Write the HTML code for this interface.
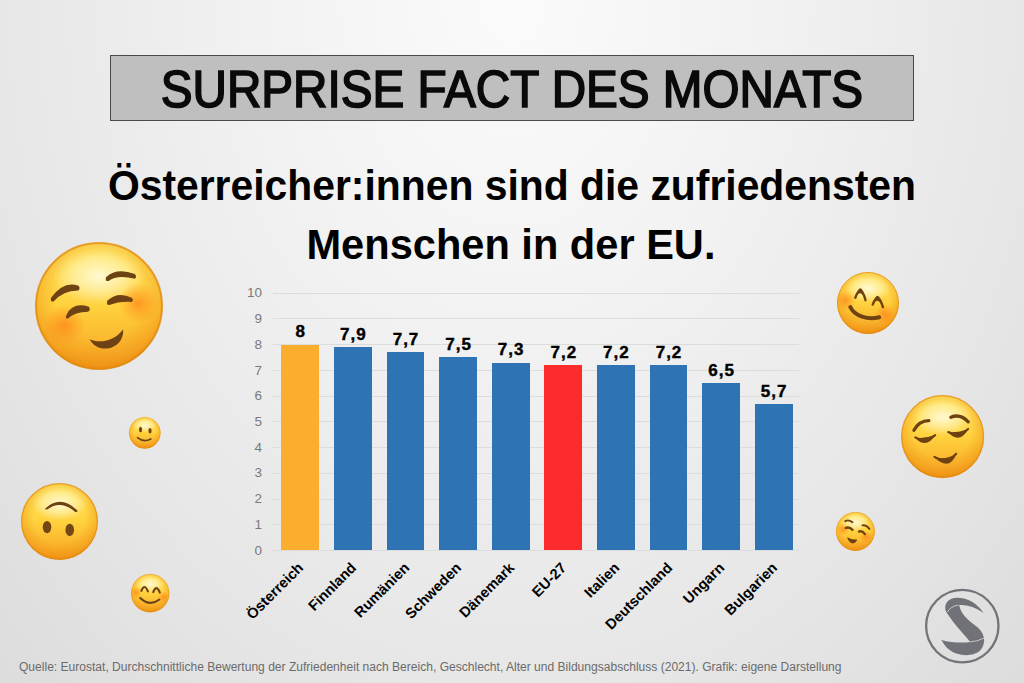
<!DOCTYPE html>
<html><head><meta charset="utf-8">
<style>
*{margin:0;padding:0;box-sizing:border-box}
html,body{width:1024px;height:683px;overflow:hidden}
body{position:relative;font-family:"Liberation Sans",sans-serif;
background:radial-gradient(ellipse 620px 820px at 50% 0%, #fbfbfb 0%, #f2f2f2 40%, #e6e6e6 85%, #dadada 125%);}
.abs{position:absolute}
#tbox{left:110px;top:55px;width:804px;height:66px;background:#bfbfbf;border:1.6px solid #4a4a4a}
.ctr{left:0;width:1024px;text-align:center;white-space:nowrap}
#title{top:63px;font-size:51.5px;line-height:52px;color:#0a0a0a;-webkit-text-stroke:1.7px #0a0a0a;transform:scaleX(0.925);transform-origin:511px 0}
.sub{font-size:43px;line-height:43px;font-weight:bold;color:#000}
#l1{top:164px;transform:scaleX(0.950);transform-origin:511px 0}
#l2{top:223px;left:-1px;transform:scaleX(0.967);transform-origin:511px 0}
.grid{left:273px;width:526px;height:1px;background:#dcdcdc}
.yl{left:220px;width:42px;text-align:right;font-size:13.5px;line-height:13px;color:#7a7a7a}
.bar{width:38px}
.val{width:60px;text-align:center;font-size:17px;line-height:17px;font-weight:bold;letter-spacing:1.0px;text-indent:1.0px;color:#000;-webkit-text-stroke:0.4px #000}
.cl{font-size:14.6px;line-height:15px;font-weight:bold;color:#000;white-space:nowrap;text-align:right;width:120px;transform-origin:100% 50%;transform:rotate(-45deg)}
#foot{left:19px;top:661px;font-size:12.5px;line-height:13px;color:#6b6b6b;white-space:nowrap;transform:scaleX(0.964);transform-origin:0 0}
svg{position:absolute;overflow:visible}
.emo{position:absolute}
</style></head><body>

<div id="tbox" class="abs"></div>
<div id="title" class="abs ctr">SURPRISE FACT DES MONATS</div>
<div id="l1" class="abs ctr sub">Österreicher:innen sind die zufriedensten</div>
<div id="l2" class="abs ctr sub">Menschen in der EU.</div>

<!-- CHART -->
<div id="chart">
<div class="abs grid" style="top:550.00px"></div>
<div class="abs yl" style="top:543.70px">0</div>
<div class="abs grid" style="top:524.26px"></div>
<div class="abs yl" style="top:517.96px">1</div>
<div class="abs grid" style="top:498.52px"></div>
<div class="abs yl" style="top:492.22px">2</div>
<div class="abs grid" style="top:472.78px"></div>
<div class="abs yl" style="top:466.48px">3</div>
<div class="abs grid" style="top:447.04px"></div>
<div class="abs yl" style="top:440.74px">4</div>
<div class="abs grid" style="top:421.30px"></div>
<div class="abs yl" style="top:415.00px">5</div>
<div class="abs grid" style="top:395.56px"></div>
<div class="abs yl" style="top:389.26px">6</div>
<div class="abs grid" style="top:369.82px"></div>
<div class="abs yl" style="top:363.52px">7</div>
<div class="abs grid" style="top:344.08px"></div>
<div class="abs yl" style="top:337.78px">8</div>
<div class="abs grid" style="top:318.34px"></div>
<div class="abs yl" style="top:312.04px">9</div>
<div class="abs grid" style="top:292.60px"></div>
<div class="abs yl" style="top:286.30px">10</div>
<div class="abs bar" style="left:281.45px;top:344.58px;width:37.70px;height:205.92px;background:#fbae2e"></div>
<div class="abs val" style="left:270.30px;top:323.38px">8</div>
<div class="abs cl" style="left:181.30px;top:558.00px">Österreich</div>
<div class="abs bar" style="left:334.05px;top:347.15px;width:37.70px;height:203.35px;background:#2e74b5"></div>
<div class="abs val" style="left:322.90px;top:325.95px">7,9</div>
<div class="abs cl" style="left:233.90px;top:558.00px">Finnland</div>
<div class="abs bar" style="left:386.65px;top:352.30px;width:37.70px;height:198.20px;background:#2e74b5"></div>
<div class="abs val" style="left:375.50px;top:331.10px">7,7</div>
<div class="abs cl" style="left:286.50px;top:558.00px">Rumänien</div>
<div class="abs bar" style="left:439.25px;top:357.45px;width:37.70px;height:193.05px;background:#2e74b5"></div>
<div class="abs val" style="left:428.10px;top:336.25px">7,5</div>
<div class="abs cl" style="left:339.10px;top:558.00px">Schweden</div>
<div class="abs bar" style="left:491.85px;top:362.60px;width:37.70px;height:187.90px;background:#2e74b5"></div>
<div class="abs val" style="left:480.70px;top:341.40px">7,3</div>
<div class="abs cl" style="left:391.70px;top:558.00px">Dänemark</div>
<div class="abs bar" style="left:544.45px;top:365.17px;width:37.70px;height:185.33px;background:#fd2b2b"></div>
<div class="abs val" style="left:533.30px;top:343.97px">7,2</div>
<div class="abs cl" style="left:444.30px;top:558.00px">EU-27</div>
<div class="abs bar" style="left:597.05px;top:365.17px;width:37.70px;height:185.33px;background:#2e74b5"></div>
<div class="abs val" style="left:585.90px;top:343.97px">7,2</div>
<div class="abs cl" style="left:496.90px;top:558.00px">Italien</div>
<div class="abs bar" style="left:649.65px;top:365.17px;width:37.70px;height:185.33px;background:#2e74b5"></div>
<div class="abs val" style="left:638.50px;top:343.97px">7,2</div>
<div class="abs cl" style="left:549.50px;top:558.00px">Deutschland</div>
<div class="abs bar" style="left:702.25px;top:383.19px;width:37.70px;height:167.31px;background:#2e74b5"></div>
<div class="abs val" style="left:691.10px;top:361.99px">6,5</div>
<div class="abs cl" style="left:602.10px;top:558.00px">Ungarn</div>
<div class="abs bar" style="left:754.85px;top:403.78px;width:37.70px;height:146.72px;background:#2e74b5"></div>
<div class="abs val" style="left:743.70px;top:382.58px">5,7</div>
<div class="abs cl" style="left:654.70px;top:558.00px">Bulgarien</div>
</div><!--endchart-->

<div id="emoji">
<svg width="0" height="0" style="position:absolute">
<defs>
<linearGradient id="gf" x1="0" y1="0" x2="0" y2="1">
<stop offset="0" stop-color="#ffe866"/>
<stop offset="0.5" stop-color="#ffd23e"/>
<stop offset="0.85" stop-color="#f9b02a"/>
<stop offset="1" stop-color="#f29a1a"/>
</linearGradient>
<radialGradient id="ge" cx="50%" cy="45%" r="55%">
<stop offset="0.6" stop-color="#f09414" stop-opacity="0"/>
<stop offset="0.9" stop-color="#ee9012" stop-opacity="0.45"/>
<stop offset="1" stop-color="#e88a10" stop-opacity="0.8"/>
</radialGradient>
<radialGradient id="gh" cx="50%" cy="50%" r="50%">
<stop offset="0" stop-color="#fffbd8" stop-opacity="0.95"/>
<stop offset="0.6" stop-color="#fffbd8" stop-opacity="0.45"/>
<stop offset="1" stop-color="#fff8c8" stop-opacity="0"/>
</radialGradient>
<radialGradient id="gb" cx="50%" cy="50%" r="50%">
<stop offset="0" stop-color="#ff8418" stop-opacity="0.75"/>
<stop offset="1" stop-color="#ff8418" stop-opacity="0"/>
</radialGradient>
</defs></svg>
<svg class="emo" style="left:35.20px;top:242.20px;width:128.00px;height:128.00px" viewBox="0 0 100 100"><circle cx="50" cy="50" r="49.6" fill="url(#gf)"/><circle cx="50" cy="50" r="49.6" fill="url(#ge)"/><ellipse cx="50" cy="27" rx="36" ry="22" fill="url(#gh)"/><circle cx="23" cy="65" r="16" fill="url(#gb)"/><circle cx="81" cy="48" r="16" fill="url(#gb)"/><circle cx="50" cy="50" r="49.2" fill="none" stroke="#e0870e" stroke-opacity="0.7" stroke-width="1.6"/><path d="M12.5,43.5 Q22.75,29.75 34,34.2 Q35.6,36 34,37.8 Q21.75,37.65 14.5,46.5 Q11.8,47 12.5,43.5 Z" fill="#6e4212"/><path d="M55.5,27.5 Q63.85,19.75 78,25 Q80,27.3 78,28.8 Q64.25,25.35 57.5,30.5 Q54.5,31 55.5,27.5 Z" fill="#6e4212"/><path d="M24.6,57 Q29.25,46.65 42.1,50.5 Q43.8,53 41.5,54.5 Q31.05,54.8 26,59.5 Q23.2,60.5 24.6,57 Z" fill="#6e4212"/><path d="M56.6,45.8 Q64.5,38.35 75.6,43.5 Q77.5,45.5 75.5,46.8 Q65.85,46.15 58,49.3 Q55.3,49.5 56.6,45.8 Z" fill="#6e4212"/><path d="M42.7,75.9 C48,78.5 60,79.5 68.9,68.3 C69.5,76 64,82.5 56,83.2 C50,83.6 45,80.5 42.7,75.9 Z" fill="#6e4212"/></svg>
<svg class="emo" style="left:129.20px;top:416.70px;width:31.60px;height:31.60px" viewBox="0 0 100 100"><circle cx="50" cy="50" r="49.6" fill="url(#gf)"/><circle cx="50" cy="50" r="49.6" fill="url(#ge)"/><ellipse cx="50" cy="27" rx="36" ry="22" fill="url(#gh)"/><circle cx="50" cy="50" r="49.2" fill="none" stroke="#e0870e" stroke-opacity="0.7" stroke-width="1.6"/><ellipse cx="36.5" cy="39.5" rx="5" ry="8.5" fill="#6e4212"/><ellipse cx="66.5" cy="43.5" rx="5" ry="8.5" fill="#6e4212"/><path d="M27,65.5 Q47,82 69,69.5" fill="none" stroke="#6e4212" stroke-width="5.5" stroke-linecap="round"/></svg>
<svg class="emo" style="left:21.30px;top:483.10px;width:77.00px;height:77.00px" viewBox="0 0 100 100"><circle cx="50" cy="50" r="49.6" fill="url(#gf)"/><circle cx="50" cy="50" r="49.6" fill="url(#ge)"/><ellipse cx="50" cy="27" rx="36" ry="22" fill="url(#gh)"/><circle cx="50" cy="50" r="49.2" fill="none" stroke="#e0870e" stroke-opacity="0.7" stroke-width="1.6"/><path d="M31.5,33 Q51.5,14.5 73.5,36 Q73,38.5 70.5,37.5 Q51.5,21.5 34.5,34 Q31,35.5 31.5,33 Z" fill="#6e4212"/><ellipse cx="33.8" cy="57.3" rx="5.6" ry="8" fill="#744716"/><ellipse cx="63.3" cy="61" rx="5.6" ry="8" fill="#744716"/></svg>
<svg class="emo" style="left:130.80px;top:574.00px;width:38.40px;height:38.40px" viewBox="0 0 100 100"><circle cx="50" cy="50" r="49.6" fill="url(#gf)"/><circle cx="50" cy="50" r="49.6" fill="url(#ge)"/><ellipse cx="50" cy="27" rx="36" ry="22" fill="url(#gh)"/><circle cx="13" cy="48" r="15" fill="url(#gb)"/><circle cx="85" cy="60" r="15" fill="url(#gb)"/><circle cx="50" cy="50" r="49.2" fill="none" stroke="#e0870e" stroke-opacity="0.7" stroke-width="1.6"/><path d="M27,44 Q35.5,23 44,45.5" fill="none" stroke="#6e4212" stroke-width="5.5" stroke-linecap="round"/><path d="M58,47 Q66.5,26 75,48.5" fill="none" stroke="#6e4212" stroke-width="5.5" stroke-linecap="round"/><path d="M24,62.5 Q49,86 74,66.5" fill="none" stroke="#6e4212" stroke-width="5.5" stroke-linecap="round"/></svg>
<svg class="emo" style="left:837.40px;top:271.60px;width:62.00px;height:62.00px" viewBox="0 0 100 100"><circle cx="50" cy="50" r="49.6" fill="url(#gf)"/><circle cx="50" cy="50" r="49.6" fill="url(#ge)"/><ellipse cx="50" cy="27" rx="36" ry="22" fill="url(#gh)"/><circle cx="14" cy="46" r="16" fill="url(#gb)"/><circle cx="77" cy="68" r="16" fill="url(#gb)"/><circle cx="50" cy="50" r="49.2" fill="none" stroke="#e0870e" stroke-opacity="0.7" stroke-width="1.6"/><path d="M29.2,41.5 Q38.5,9 46.3,45.5 Q38.5,25 29.2,41.5 Z" fill="#6e4212"/><path d="M29.5,41.5 Q38.5,17 46,45.5" fill="none" stroke="#6e4212" stroke-width="3.8" stroke-linecap="round"/><path d="M57.3,52.6 Q66,22 74.4,56.7 Q66,38 57.3,52.6 Z" fill="#6e4212"/><path d="M57.6,52.6 Q66,30 74.1,56.7" fill="none" stroke="#6e4212" stroke-width="3.8" stroke-linecap="round"/><path d="M21.5,56.5 C28,71 50,78 68,73" fill="none" stroke="#6e4212" stroke-width="6.5" stroke-linecap="round"/></svg>
<svg class="emo" style="left:900.50px;top:395.40px;width:83.20px;height:83.20px" viewBox="0 0 100 100"><circle cx="50" cy="50" r="49.6" fill="url(#gf)"/><circle cx="50" cy="50" r="49.6" fill="url(#ge)"/><ellipse cx="50" cy="27" rx="36" ry="22" fill="url(#gh)"/><circle cx="50" cy="50" r="49.2" fill="none" stroke="#e0870e" stroke-opacity="0.7" stroke-width="1.6"/><path d="M15.5,42.5 Q21.5,31 33.5,30.8" fill="none" stroke="#6e4212" stroke-width="3.9" stroke-linecap="round"/><path d="M60,26.8 Q71,22 80.8,32.2" fill="none" stroke="#6e4212" stroke-width="3.9" stroke-linecap="round"/><path d="M16.6,51 Q28,53 41.7,47.8 Q30,66 16.6,51 Z" fill="#6e4212"/><path d="M17.2,51 Q29,58 41.1,48.2" fill="none" stroke="#6e4212" stroke-width="2.6" stroke-linecap="round"/><path d="M56.2,44.5 Q68,46 81.3,40.5 Q70,60 56.2,44.5 Z" fill="#6e4212"/><path d="M56.8,44.5 Q69,51 80.7,40.8" fill="none" stroke="#6e4212" stroke-width="2.6" stroke-linecap="round"/><path d="M39.7,74.2 Q53,79 66.8,70.2 Q58,93 39.7,74.2 Z" fill="#6e4212"/><path d="M40.2,74.4 Q55,84 66.3,70.6" fill="none" stroke="#6e4212" stroke-width="2.6" stroke-linecap="round"/></svg>
<svg class="emo" style="left:836.40px;top:512.00px;width:38.80px;height:38.80px" viewBox="0 0 100 100"><circle cx="50" cy="50" r="49.6" fill="url(#gf)"/><circle cx="50" cy="50" r="49.6" fill="url(#ge)"/><ellipse cx="50" cy="27" rx="36" ry="22" fill="url(#gh)"/><circle cx="18" cy="45" r="16" fill="url(#gb)"/><circle cx="77" cy="64" r="16" fill="url(#gb)"/><circle cx="50" cy="50" r="49.2" fill="none" stroke="#e0870e" stroke-opacity="0.7" stroke-width="1.6"/><path d="M24,23.5 Q32,18.5 42.5,26.5" fill="none" stroke="#6e4212" stroke-width="5" stroke-linecap="round"/><path d="M25,41.5 Q34,37 42.5,46" fill="none" stroke="#6e4212" stroke-width="6" stroke-linecap="round"/><path d="M68,34.5 Q78,32.5 86,43.5" fill="none" stroke="#6e4212" stroke-width="5" stroke-linecap="round"/><path d="M59,50.5 Q67,47 74.5,57" fill="none" stroke="#6e4212" stroke-width="6" stroke-linecap="round"/><path d="M29.5,66 Q40,73 54,72.5 Q49,82 40,80.5 Q31.5,77 29.5,66 Z" fill="#6e4212"/><path d="M30.5,67.5 Q41,73 53,72.5" fill="none" stroke="#6e4212" stroke-width="3" stroke-linecap="round"/></svg>
</div><!--endemoji-->

<div id="logo"><svg style="left:915px;top:580px;width:95px;height:90px" viewBox="0 0 95 90">
<circle cx="47.3" cy="46.1" r="36.2" fill="none" stroke="#727479" stroke-width="2.3"/>
<g transform="scale(0.13175)">
<path fill="#707277" d="M235,240 C215,185 250,135 320,135 C400,135 475,180 520,250 C460,205 390,185 335,190 C345,240 380,290 450,340 C530,395 545,470 500,530 C450,585 330,585 260,530 C235,510 215,480 200,455 C270,475 360,480 420,470 C380,420 310,350 270,290 C255,270 245,255 235,240 Z"/>
<path fill="none" stroke="#dedede" stroke-width="6" d="M245,243 Q270,200 330,190"/>
<path fill="none" stroke="#dedede" stroke-width="6" d="M420,470 Q480,465 525,440"/>
</g></svg></div>

<div id="foot" class="abs">Quelle: Eurostat, Durchschnittliche Bewertung der Zufriedenheit nach Bereich, Geschlecht, Alter und Bildungsabschluss (2021). Grafik: eigene Darstellung</div>

</body></html>
